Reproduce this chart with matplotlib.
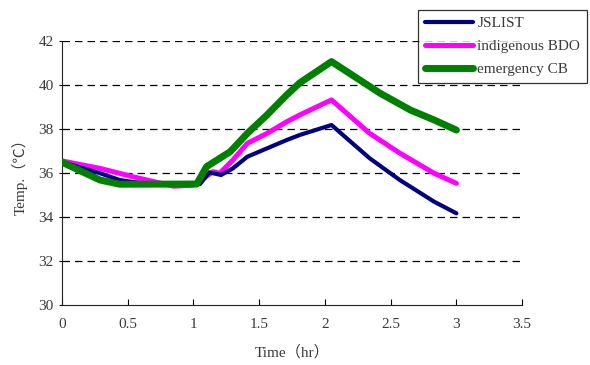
import matplotlib
matplotlib.use('Agg')
import matplotlib.pyplot as plt

# Data
t_js = [0, 0.29, 0.44, 0.65, 1.05, 1.12, 1.21, 1.30, 1.41, 1.56, 1.71, 1.81, 2.05, 2.34, 2.57, 2.83, 3.0]
jslist = [36.5, 35.99, 35.68, 35.5, 35.5, 36.03, 35.91, 36.21, 36.74, 37.12, 37.5, 37.73, 38.18, 36.67, 35.68, 34.7, 34.17]

t_bdo = [0, 0.29, 0.54, 0.85, 1.0, 1.15, 1.2, 1.30, 1.41, 1.56, 1.71, 1.81, 2.05, 2.34, 2.57, 2.83, 3.0]
bdo = [36.55, 36.21, 35.83, 35.4, 35.45, 36.06, 35.99, 36.59, 37.35, 37.8, 38.33, 38.64, 39.32, 37.8, 36.9, 35.99, 35.53]

t_cb = [0, 0.29, 0.44, 1.025, 1.10, 1.28, 1.41, 1.56, 1.71, 1.81, 2.05, 2.42, 2.65, 2.83, 3.0]
cb = [36.49, 35.68, 35.49, 35.5, 36.29, 36.97, 37.8, 38.64, 39.55, 40.1, 41.06, 39.62, 38.86, 38.41, 37.95]

xticks = [0, 0.5, 1, 1.5, 2, 2.5, 3, 3.5]
xticklabels = ['0', '0.5', '1', '1.5', '2', '2.5', '3', '3.5']
yticks = [30, 32, 34, 36, 38, 40, 42]

fonts = ['Liberation Serif', 'Noto Sans CJK TC']
plt.rcParams['font.family'] = fonts
txt = '#3a3a3a'

fig = plt.figure(figsize=(5.9, 3.65), dpi=100)
ax = fig.add_axes([0.105, 0.164, 0.78, 0.724])

for y in yticks[1:]:
    ax.axhline(y, color='black', lw=0.9, dashes=(6, 4), zorder=1)

l1, = ax.plot(t_js, jslist, color='#000080', lw=3.0, solid_capstyle='round', label='JSLIST', zorder=3)
l2, = ax.plot(t_bdo, bdo, color='#ff00ff', lw=3.6, solid_capstyle='round', label='indigenous BDO', zorder=2)
l3, = ax.plot(t_cb, cb, color='#008000', lw=5.0, solid_capstyle='round', label='emergency CB', zorder=4)

ax.set_xlim(0, 3.5)
ax.set_ylim(30, 42)
ax.set_xticks(xticks)
ax.set_xticklabels(xticklabels)
ax.set_yticks(yticks)
ax.spines['top'].set_visible(False)
ax.spines['right'].set_visible(False)
ax.spines['left'].set_color('#222222')
ax.spines['bottom'].set_color('#222222')
ax.tick_params(axis='x', direction='in', length=4, labelsize=11, labelcolor=txt, pad=9)
ax.tick_params(axis='y', direction='out', length=2, labelsize=11, labelcolor=txt, pad=4)

ax.set_xlabel('Time（hr）', fontsize=11, color=txt, labelpad=10)
ax.set_ylabel('Temp.（℃）', fontsize=11, color=txt, labelpad=8)

leg = fig.legend(handles=[l1, l2, l3], loc='upper right', bbox_to_anchor=(0.995, 0.973),
                 fontsize=11, frameon=True, fancybox=False, handlelength=3.2,
                 handletextpad=0.25, labelspacing=0.6, borderpad=0.45, borderaxespad=0)
leg.get_frame().set_edgecolor('black')
leg.get_frame().set_linewidth(0.9)
for t in leg.get_texts():
    t.set_color(txt)

fig.savefig('out.png', dpi=100)
